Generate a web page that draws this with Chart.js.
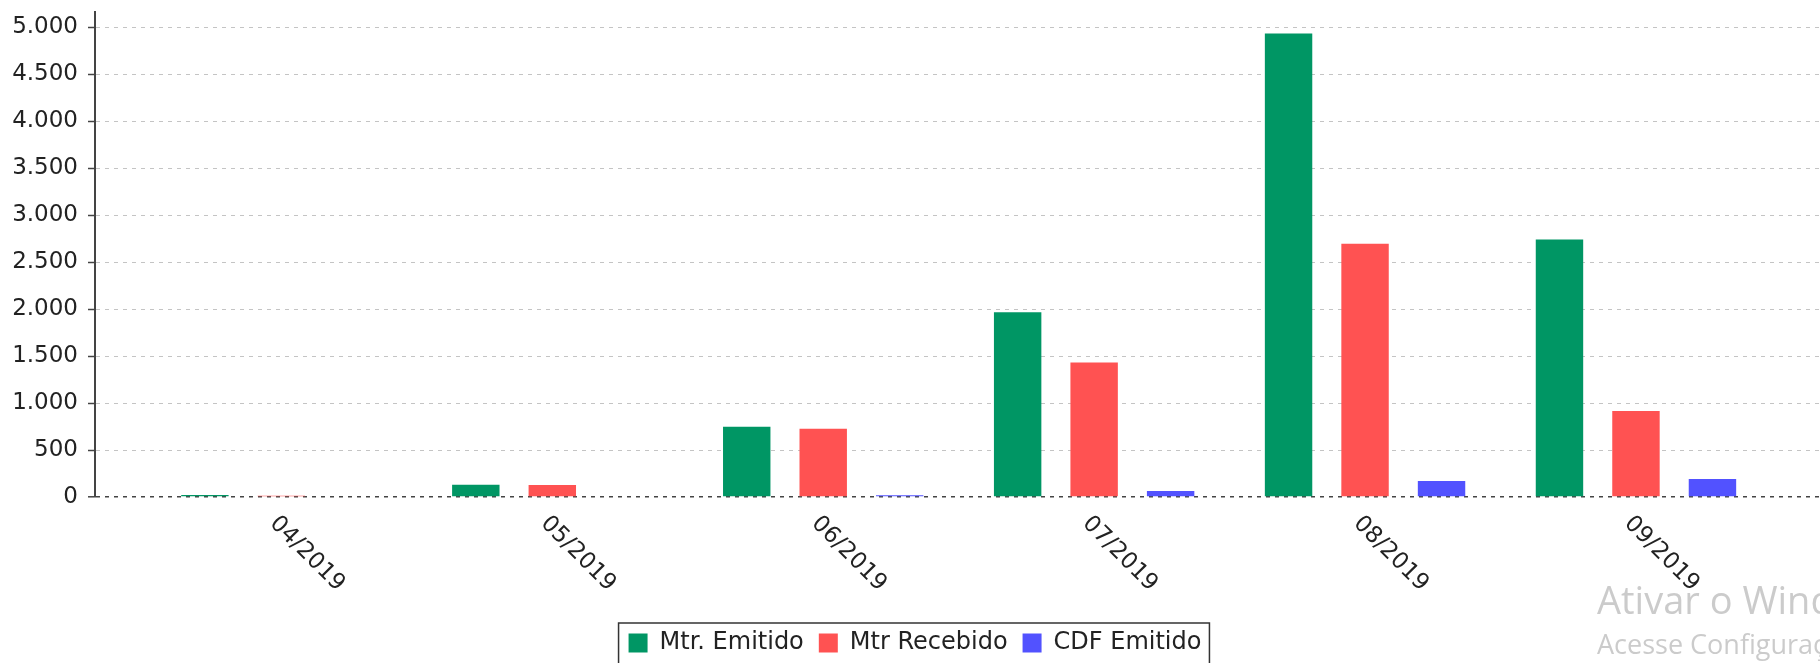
<!DOCTYPE html>
<html>
<head>
<meta charset="utf-8">
<script src="https://cdn.jsdelivr.net/npm/chart.js@4.4.0/dist/chart.umd.min.js"></script>
<style>
  html, body { margin: 0; padding: 0; background: #fff; overflow: hidden; }
  #wrap { position: relative; width: 1830px; height: 663px; }
</style>
</head>
<body>
<div id="wrap"><canvas id="grafico"></canvas></div>
<script>
// dados
var meses = ['04/2019', '05/2019', '06/2019', '07/2019', '08/2019', '09/2019'];
var mtrEmitido = [20, 130, 748, 1965, 4930, 2740];
var mtrRecebido = [12, 128, 725, 1430, 2695, 915];
var cdfEmitido = [7, 9, 18, 63, 171, 192];
var yTicks = [0, 500, 1000, 1500, 2000, 2500, 3000, 3500, 4000, 4500, 5000];

function fmt(v) {
    return String(v).replace(/\B(?=(\d{3})+(?!\d))/g, '.');
}

function pontos(lista) {
    return lista.map(function(v, i) { return { x: i, y: v }; });
}

Chart.defaults.font.family = "'DejaVu Sans', sans-serif";
Chart.defaults.font.size = 23;
Chart.defaults.color = '#222';

// rótulos inclinados do eixo x, moldura da legenda e marca d'água
var extras = {
    id: 'extras',
    afterDraw: function(chart) {
        var ctx = chart.ctx;
        var sx = chart.scales.x;
        var area = chart.chartArea;
        ctx.save();
        ctx.font = "23px 'DejaVu Sans'";
        ctx.fillStyle = '#222';
        ctx.textAlign = 'left';
        ctx.textBaseline = 'top';
        sx.ticks.forEach(function(t) {
            var px = sx.getPixelForValue(t.value);
            ctx.save();
            ctx.translate(px, area.bottom + 15);
            ctx.rotate(Math.PI / 4);
            ctx.fillText(meses[t.value], 0, 0);
            ctx.restore();
        });

        var hb = chart.legend.legendHitBoxes;
        if (hb && hb.length) {
            var ult = hb[hb.length - 1];
            var esq = hb[0].left - 10;
            var dir = ult.left + ult.width + 8;
            var topo = hb[0].top - 8;
            ctx.strokeStyle = '#333';
            ctx.lineWidth = 1.5;
            ctx.strokeRect(esq, topo, dir - esq, chart.height - topo + 10);
        }

        ctx.fillStyle = 'rgba(130,130,130,0.42)';
        ctx.textBaseline = 'alphabetic';
        ctx.font = "38px 'Open Sans'";
        ctx.fillText('Ativar o Windows', 1597, 614);
        ctx.font = "27px 'Open Sans'";
        ctx.fillText('Acesse Configurações para ativar o Windows.', 1597, 654);
        ctx.restore();
    }
};

var ctx = document.getElementById('grafico').getContext('2d');
var grafico = new Chart(ctx, {
    type: 'bar',
    data: {
        datasets: [{
            label: 'Mtr. Emitido',
            data: pontos(mtrEmitido),
            backgroundColor: '#009664'
        }, {
            label: 'Mtr Recebido',
            data: pontos(mtrRecebido),
            backgroundColor: '#ff5252'
        }, {
            label: 'CDF Emitido',
            data: pontos(cdfEmitido),
            backgroundColor: '#5252ff'
        }]
    },
    options: {
        responsive: true,
        maintainAspectRatio: false,
        animation: false,
        layout: { padding: { top: 12, left: 9, right: 9, bottom: -2 } },
        datasets: {
            bar: { categoryPercentage: 0.847, barPercentage: 0.62 }
        },
        plugins: {
            legend: {
                position: 'bottom',
                labels: { boxWidth: 19, boxHeight: 19, padding: 15, color: '#222', font: { size: 24 } }
            },
            tooltip: { enabled: false }
        },
        scales: {
            x: {
                type: 'linear',
                offset: false,
                min: -0.688,
                max: 5.683,
                grid: { display: false, offset: false },
                border: { display: false },
                ticks: { display: false },
                afterBuildTicks: function(s) {
                    s.ticks = meses.map(function(m, i) { return { value: i }; });
                },
                afterFit: function(s) {
                    s.height = 119;
                    s.paddingLeft = 0;
                    s.paddingRight = 0;
                }
            },
            y: {
                min: 0,
                max: 5160,
                afterBuildTicks: function(s) {
                    s.ticks = yTicks.map(function(v) { return { value: v }; });
                },
                afterFit: function(s) {
                    s.width = 86;
                    s.paddingTop = 0;
                    s.paddingBottom = 0;
                },
                ticks: {
                    padding: 10,
                    color: '#222',
                    callback: function(v) { return fmt(v); }
                },
                grid: {
                    color: function(c) { return c.tick && c.tick.value === 0 ? '#444' : '#c4c4c4'; },
                    lineWidth: function(c) { return c.tick && c.tick.value === 0 ? 1.6 : 1; },
                    tickLength: 7,
                    tickColor: '#444',
                    tickWidth: 1.5
                },
                border: { display: true, color: '#444', width: 2, dash: [4, 5] }
            }
        }
    },
    plugins: [extras]
});
</script>
</body>
</html>
